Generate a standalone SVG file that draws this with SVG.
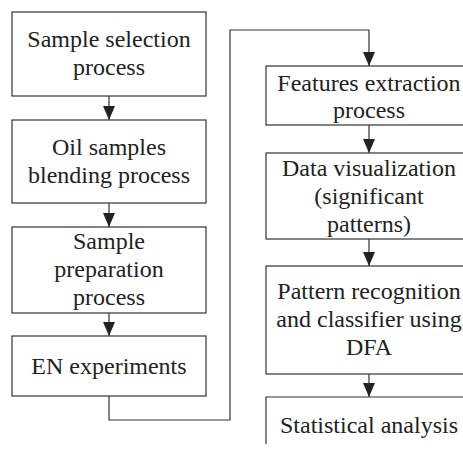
<svg xmlns="http://www.w3.org/2000/svg" width="463" height="454" viewBox="0 0 463 454">
<defs>
<style>
.box{fill:#fff;stroke:#333;stroke-width:1.2}
.c{fill:none;stroke:#333;stroke-width:1.2}
</style>
<marker id="ah" markerWidth="14" markerHeight="12" refX="14" refY="6" orient="auto" markerUnits="userSpaceOnUse">
<path d="M0,0 L14,6 L0,12 Z" fill="#222"/>
</marker>
</defs>
<rect width="463" height="454" fill="#fff"/>
<g id="connectors">
<line class="c" x1="109" y1="96" x2="109" y2="120" marker-end="url(#ah)"/>
<line class="c" x1="109" y1="203" x2="109" y2="227" marker-end="url(#ah)"/>
<line class="c" x1="109" y1="313" x2="109" y2="336" marker-end="url(#ah)"/>
<polyline class="c" points="109,396 109,420 230,420 230,30 369,30 369,66" marker-end="url(#ah)"/>
<line class="c" x1="369" y1="125" x2="369" y2="153" marker-end="url(#ah)"/>
<line class="c" x1="369" y1="239" x2="369" y2="266" marker-end="url(#ah)"/>
<line class="c" x1="369" y1="374" x2="369" y2="397" marker-end="url(#ah)"/>
</g>
<g font-family="'Liberation Serif', Tinos, 'DejaVu Serif', serif" font-size="24" fill="#222" text-anchor="middle">
<g id="n1"><rect class="box" x="12" y="12" width="194" height="84"/><text x="109" y="47">Sample selection</text><text x="109" y="75">process</text></g>
<g id="n2"><rect class="box" x="12" y="120" width="194" height="83"/><text x="109" y="155">Oil samples</text><text x="109" y="183">blending process</text></g>
<g id="n3"><rect class="box" x="12" y="227" width="194" height="86"/><text x="109" y="249">Sample</text><text x="109" y="277">preparation</text><text x="109" y="305">process</text></g>
<g id="n4"><rect class="box" x="12" y="336" width="194" height="60"/><text x="109" y="374">EN experiments</text></g>
<g id="n5"><rect class="box" x="266" y="66" width="206" height="59"/><text x="369" y="91">Features extraction</text><text x="369" y="118">process</text></g>
<g id="n6"><rect class="box" x="266" y="153" width="206" height="86"/><text x="369" y="176">Data visualization</text><text x="369" y="204">(significant</text><text x="369" y="232">patterns)</text></g>
<g id="n7"><rect class="box" x="266" y="266" width="206" height="108"/><text x="369" y="299">Pattern recognition</text><text x="369" y="327">and classifier using</text><text x="369" y="355">DFA</text></g>
<g id="n8"><path class="box" d="M266,444 L266,397 L472,397 L472,444"/><text x="369" y="433">Statistical analysis</text></g>
</g>
</svg>
